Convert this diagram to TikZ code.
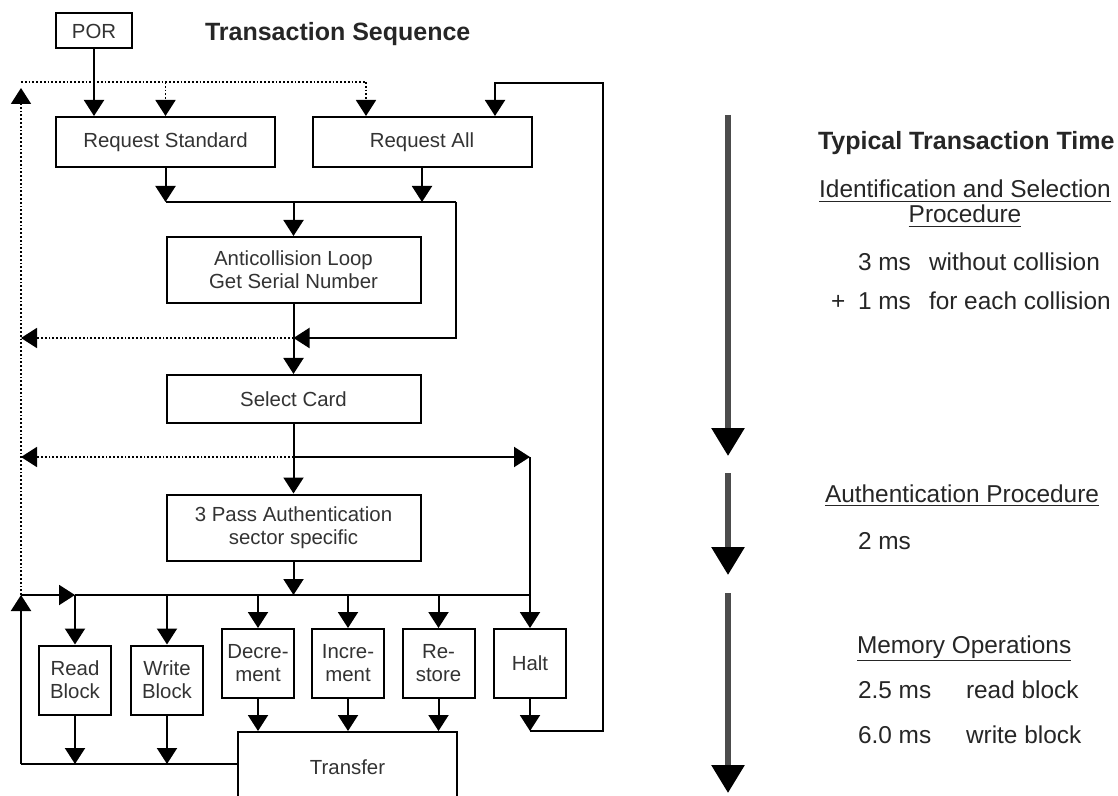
\documentclass[tikz,border=0pt]{standalone}
\usepackage{fontspec}
\setmainfont{Liberation Sans}
\usetikzlibrary{arrows.meta}

\begin{document}
\begin{tikzpicture}[x=0.5pt,y=-0.5pt,line width=1pt,
  >={Triangle[length=8pt,width=10pt]},
  box/.style={draw,line width=1pt,inner sep=1pt,align=center,text=black!80,
    font=\fontsize{10.2pt}{11.5pt}\selectfont},
  wide/.style={box,minimum width=109.5pt,minimum height=25pt},
  mid/.style={box,minimum width=127pt,minimum height=33pt},
  small/.style={box,minimum width=36pt,minimum height=34.5pt},
  dotline/.style={densely dotted,line width=0.9pt},
  timebar/.style={line width=3pt,black!70,-{Triangle[length=14pt,width=16pt,black]}},
  note/.style={anchor=base west,inner sep=0pt,text=black!85,
    font=\fontsize{12.2pt}{12.5pt}\selectfont},
  heading/.style={note,font=\fontsize{12.5pt}{14pt}\selectfont\bfseries}]

\clip (0,0) rectangle (1118,796);
\fill[white] (0,0) rectangle (1118,796);

%sequence boxes
\node[box,minimum width=38pt,minimum height=17.5pt] (por) at (94,31) {POR};
\node[heading] (title) at (204,41) {Transaction Sequence};
\node[wide] (reqstd) at (165.5,142) {Request Standard};
\node[wide] (reqall) at (422,142) {Request All};
\node[mid] (anticoll) at (293.5,270) {Anticollision Loop\\Get Serial Number};
\node[mid,minimum height=24pt] (select) at (293.5,399) {Select Card};
\node[mid] (auth) at (293.5,527.5) {3 Pass Authentication\\sector specific};
%memory operations
\node[small] (read) at (75,680) {Read\\Block};
\node[small] (write) at (167,680) {Write\\Block};
\node[small] (dec) at (258,663.5) {Decre-\\ment};
\node[small] (inc) at (348,663.5) {Incre-\\ment};
\node[small] (restore) at (438.5,663.5) {Re-\\store};
\node[small] (halt) at (530,663.5) {Halt};
\node[box,minimum width=109.5pt,minimum height=35pt] (transfer) at (347.5,767) {Transfer};

\coordinate (tl) at (21,82);
\coordinate (tr) at (366,82);
\coordinate (ra) at (495,83);
\coordinate (rr) at (603,83);
\coordinate (mj) at (456,202);
\coordinate (aj) at (456,338);
\coordinate (sj) at (293.5,457);
\coordinate (bl) at (21,595);
\coordinate (bb) at (21,764);
\coordinate (hb) at (halt.south |- transfer.north);

%power on and dotted return path
\draw[->] (por) -- (por |- reqstd.north);
\draw[dotline] (tl) -- (tr);
\draw[dotline,->] (reqstd.north |- tl) -- (reqstd.north);
\draw[dotline,->] (tr) -- (tr |- reqall.north);
\draw[dotline,->] (bl) -- ([yshift=-3pt]tl);
%halt back to request all
\draw[->] (halt) -- (hb);
\draw[->] (hb) -| (rr) -- (ra) -- (ra |- reqall.north);
%request -> anticollision -> select -> auth
\draw[->] (reqstd) -- (reqstd.south |- mj);
\draw[->] (reqall) -- (reqall.south |- mj);
\draw (reqstd.south |- mj) -- (mj);
\draw[->] (anticoll.north |- mj) -- (anticoll);
\draw[->] (mj) -- (aj) -- (anticoll.south |- aj);
\draw[dotline,->] (anticoll.south |- aj) -- (aj -| tl);
\draw[->] (anticoll) -- (select);
\draw[->] (select) -- (auth);
\draw[dotline,->] (sj) -- (sj -| tl);
\draw[->] (sj) -- (sj -| halt);
\draw[->] (sj -| halt) -- (halt);
%bus to the memory operations
\draw[->] (auth) -- (auth.south |- bl);
\draw[->] (bl) -- (bl -| read);
\draw (bl -| read) -- (bl -| halt);
\foreach \b in {read,write,dec,inc,restore}
  \draw[->] (bl -| \b) -- (\b);
\foreach \b in {read,write}
  \draw[->] (\b) -- (\b.south |- bb);
\foreach \b in {dec,inc,restore}
  \draw[->] (\b) -- (\b.south |- transfer.north);
\draw (transfer.west |- bb) -- (bb);
\draw[->] (bb) -- (bl);

%time line
\draw[timebar] (728,115) -- (728,456);
\draw[timebar] (728,473) -- (728,575);
\draw[timebar] (728,593) -- (728,793);

\node[heading] (typical) at (817,150) {Typical Transaction Time};
\node[note,anchor=base] (idsel) at (965,198) {\underline{Identification and Selection}};
\node[note,anchor=base] (idproc) at (965,223) {\underline{Procedure}};
\node[note] (t3) at (857,271) {3 ms};
\node[note] (t3d) at (928,271) {without collision};
\node[note] (plus) at (830,310) {+};
\node[note] (t1) at (857,310) {1 ms};
\node[note] (t1d) at (928,310) {for each collision};
\node[note] (authproc) at (824,502) {\underline{Authentication Procedure}};
\node[note] (t2) at (857,549) {2 ms};
\node[note] (memop) at (856,653) {\underline{Memory Operations}};
\node[note] (rd) at (857,698) {2.5 ms};
\node[note] (rdd) at (965,698) {read block};
\node[note] (wr) at (857,743) {6.0 ms};
\node[note] (wrd) at (965,743) {write block};

\end{tikzpicture}
\end{document}
